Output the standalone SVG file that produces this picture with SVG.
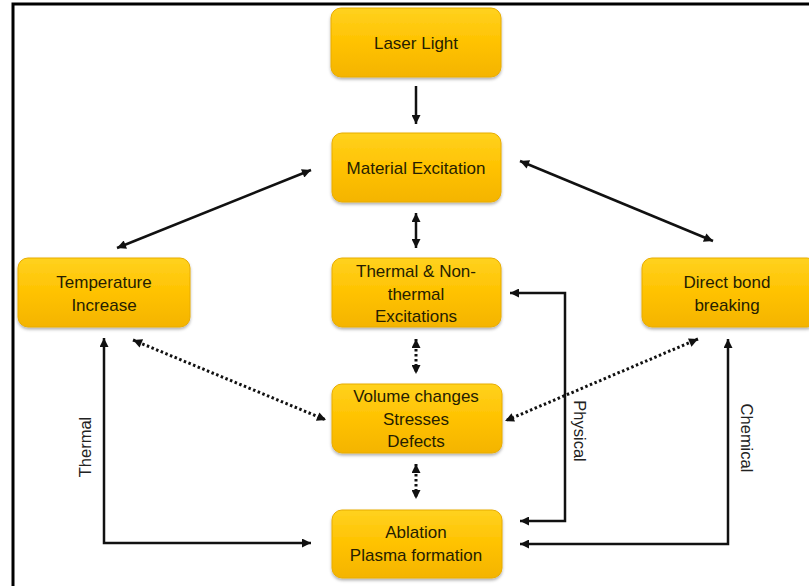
<svg xmlns="http://www.w3.org/2000/svg" width="809" height="586" viewBox="0 0 809 586">
<defs>
  <linearGradient id="gold" x1="0" y1="0" x2="0" y2="1">
    <stop offset="0" stop-color="#FFD21F"/>
    <stop offset="0.5" stop-color="#FFC200"/>
    <stop offset="1" stop-color="#F4B400"/>
  </linearGradient>
  <filter id="sh" x="-10%" y="-10%" width="120%" height="130%">
    <feDropShadow dx="0" dy="2" stdDeviation="1.5" flood-color="#000" flood-opacity="0.3"/>
  </filter>
  <marker id="ah" viewBox="0 0 10 10" refX="10" refY="5" markerUnits="userSpaceOnUse" markerWidth="10" markerHeight="9" orient="auto-start-reverse">
    <path d="M0,0 L10,5 L0,10 z" fill="#111"/>
  </marker>
</defs>
<style>
  .box { fill: url(#gold); stroke: #E8AC00; stroke-width: 1; filter: url(#sh); }
  .t { font-family: "Liberation Sans", Arial, sans-serif; font-size: 17px; fill: #261e00; text-anchor: middle; }
  .lbl { font-family: "Liberation Sans", Arial, sans-serif; font-size: 16.5px; fill: #222; text-anchor: middle; }
  .c { fill: none; stroke: #111; stroke-width: 2.5; }
  .d { fill: none; stroke: #111; stroke-width: 3; stroke-dasharray: 2.5 2.5; }
  .frame { stroke: #000; stroke-width: 3; fill: none; }
</style>
<rect x="0" y="0" width="809" height="586" fill="#fff"/>
<path class="frame" d="M13,586 L13,4 L809,4"/>

<g id="connectors">
  <path class="c" d="M416,86 L416,124" marker-end="url(#ah)"/>
  <path class="c" d="M416,213 L416,248" marker-start="url(#ah)" marker-end="url(#ah)"/>
  <path class="c" d="M311,170 L117,248" marker-start="url(#ah)" marker-end="url(#ah)"/>
  <path class="c" d="M520,161 L713,241" marker-start="url(#ah)" marker-end="url(#ah)"/>
  <path class="d" d="M416,339 L416,374" marker-start="url(#ah)" marker-end="url(#ah)"/>
  <path class="d" d="M416,464 L416,499" marker-start="url(#ah)" marker-end="url(#ah)"/>
  <path class="d" d="M133,340 L326,420" marker-start="url(#ah)" marker-end="url(#ah)"/>
  <path class="d" d="M698,339 L505,421" marker-start="url(#ah)" marker-end="url(#ah)"/>
  <path class="c" d="M104,338 L104,543 L311,543" marker-start="url(#ah)" marker-end="url(#ah)"/>
  <path class="c" d="M510,293 L565,293 L565,521 L520,521" marker-start="url(#ah)" marker-end="url(#ah)"/>
  <path class="c" d="M520,544 L728,544 L728,339" marker-start="url(#ah)" marker-end="url(#ah)"/>
  <text class="lbl" transform="translate(91,447) rotate(-90)">Thermal</text>
  <text class="lbl" transform="translate(574,431) rotate(90)">Physical</text>
  <text class="lbl" transform="translate(741,438) rotate(90)">Chemical</text>
</g>

<g id="laser">
  <rect class="box" x="331" y="8" width="170" height="69" rx="10"/>
  <text class="t" x="416" y="49">Laser Light</text>
</g>
<g id="material">
  <rect class="box" x="332" y="133" width="169" height="69" rx="10"/>
  <text class="t" x="416" y="174">Material Excitation</text>
</g>
<g id="thermal">
  <rect class="box" x="332" y="258" width="169" height="69" rx="10"/>
  <text class="t" x="416" y="277">Thermal &amp; Non-</text>
  <text class="t" x="416" y="300">thermal</text>
  <text class="t" x="416" y="322">Excitations</text>
</g>
<g id="temperature">
  <rect class="box" x="18" y="258" width="172" height="69" rx="10"/>
  <text class="t" x="104" y="288">Temperature</text>
  <text class="t" x="104" y="311">Increase</text>
</g>
<g id="direct">
  <rect class="box" x="642" y="258" width="175" height="69" rx="10"/>
  <text class="t" x="727" y="288">Direct bond</text>
  <text class="t" x="727" y="311">breaking</text>
</g>
<g id="volume">
  <rect class="box" x="332" y="384" width="170" height="69" rx="10"/>
  <text class="t" x="416" y="402">Volume changes</text>
  <text class="t" x="416" y="425">Stresses</text>
  <text class="t" x="416" y="447">Defects</text>
</g>
<g id="ablation">
  <rect class="box" x="332" y="510" width="170" height="68" rx="10"/>
  <text class="t" x="416" y="538">Ablation</text>
  <text class="t" x="416" y="561">Plasma formation</text>
</g>
</svg>
